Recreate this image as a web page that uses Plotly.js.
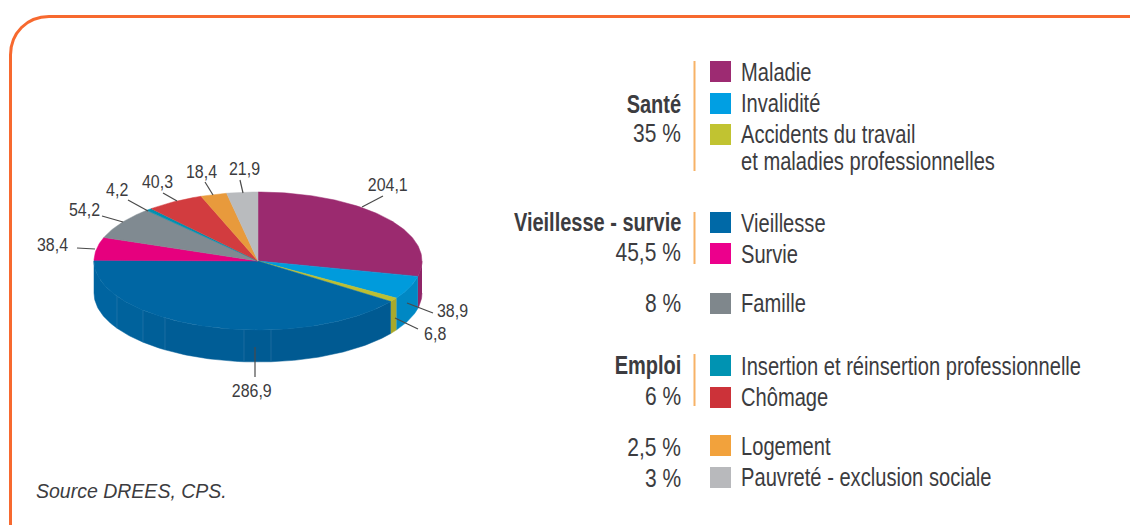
<!DOCTYPE html>
<html><head><meta charset="utf-8">
<script src="https://cdn.plot.ly/plotly-3.0.1.min.js"></script>
<style>html,body{margin:0;padding:0;background:#fff;overflow:hidden}#c{width:1130px;height:525px}</style>
</head><body><div id="c"></div>
<script>
// ---- data
var categories = ["Maladie","Invalidité","Accidents du travail et maladies professionnelles","Vieillesse","Survie","Famille","Insertion et réinsertion professionnelle","Chômage","Logement","Pauvreté - exclusion sociale"];
var values = [204.1,38.9,6.8,286.9,38.4,54.2,4.2,40.3,18.4,21.9];
var legendLines = [["Maladie"],["Invalidité"],["Accidents du travail","et maladies professionnelles"],["Vieillesse"],["Survie"],["Famille"],["Insertion et réinsertion professionnelle"],["Chômage"],["Logement"],["Pauvreté - exclusion sociale"]];
var groupLabels = ["Santé","35 %","Vieillesse - survie","45,5 %","8 %","Emploi","6 %","2,5 %","3 %"];
var boldGroups = ["Santé","Vieillesse - survie","Emploi"];
var sourceNote = "Source DREES, CPS.";

// ---- styles
var topColors  = ["#9b2a6f","#009bdc","#bcbf33","#0066a3","#e6007e","#808a91","#0090b0","#d23c3f","#e89a3c","#b9bbbe"];
var wallColors = ["#8f2568","#0088c4","#a8a92c","#005c95","#c8006e","#70787e","#007f9c","#b83236","#cc8633","#a3a5a8"];
var swatchColors = ["#9d2b72","#009fe3","#c1c331","#0069a7","#ec008c","#7f878c","#0093b2","#cc3239","#f2a23c","#b8b9bc"];
var textColor = "#3c3c40";
var legendFont = "'Liberation Sans',Arial,sans-serif";

// ---- layout geometry (pixels)
var cx = 258, cy = 261, rx = 164, ry = 69, depth = 32;
var swatchTops = [61,93,124,212,243,293,355,387,435,467];
var legendYs = [[72],[103],[134,161],[223],[254],[303],[366],[397],[446],[477]];
var groupYs = [104,133,222,252,303,365,396,447,478];
var brackets = [[61,171],[212,264],[354,406]];
var labelPos = [[388,184],[452,310],[435,333],[252,390],[52,244],[84,209],[117,189],[157,181],[201,171],[244,168]];
var leaders = [[[362,207],[383,196]],[[407,303],[433,313]],[[395,318],[418,329]],[[255,347],[255,377]],[[77,248],[95,249]],[[102,216],[123,222]],[[128,200],[148,211]],[[163,193],[177,201]],[[205,182],[213,195]],[[240,180],[243,193]]];
var seamXs = [117,143,165,244,271];

function px(a){return cx+rx*Math.sin(a*Math.PI/180);}
function py(a,d){return cy-ry*Math.cos(a*Math.PI/180)+(d||0);}
function arc(a,b,d){var xs=[],ys=[],n=Math.max(2,Math.ceil(Math.abs(b-a)));for(var i=0;i<=n;i++){var t=a+(b-a)*i/n;xs.push(px(t));ys.push(py(t,d));}return [xs,ys];}
function poly(xs,ys,color){return {type:"scatter",mode:"lines",x:xs,y:ys,fill:"toself",fillcolor:color,line:{width:0.5,color:color},hoverinfo:"skip",showlegend:false};}
function wall(a,b,color){var t=arc(a,b,0),u=arc(b,a,depth);return poly(t[0].concat(u[0]),t[1].concat(u[1]),color);}

var traces=[], total=values.reduce(function(s,v){return s+v;},0), start=0, spans=[];
values.forEach(function(v){var end=start+v/total*360;spans.push([start,end]);start=end;});

// walls: only the front half of the disc is visible
spans.forEach(function(s,i){
  var a=Math.max(s[0],90), b=Math.min(s[1],270);
  if(b<=a) return;
  if(categories[i]==="Vieillesse"){
    var cuts=seamXs.map(function(x){return 180+Math.asin((cx-x)/rx)*180/Math.PI;});
    cuts.sort(function(p,q){return p-q;});
    var edges=[a].concat(cuts,[b]);
    var shades=["#005a92","#005b93","#005d96","#005f98","#00629c","#0064a0"];
    for(var k=0;k<edges.length-1;k++) traces.push(wall(edges[k],edges[k+1],shades[k]));
    cuts.forEach(function(c){traces.push({type:"scatter",mode:"lines",x:[px(c),px(c)],y:[py(c),py(c,depth)],line:{width:1,color:"rgba(120,170,205,0.22)"},hoverinfo:"skip",showlegend:false});});
  } else traces.push(wall(a,b,wallColors[i]));
});
// top faces
spans.forEach(function(s,i){
  var t=arc(s[0],s[1],0);
  traces.push(poly([cx].concat(t[0],[cx]),[cy].concat(t[1],[cy]),topColors[i]));
});
// leader lines
leaders.forEach(function(l){
  traces.push({type:"scatter",mode:"lines",x:[l[0][0],l[1][0]],y:[l[0][1],l[1][1]],line:{width:1.2,color:"#4a4a4a"},hoverinfo:"skip",showlegend:false});
});
// swatches
categories.forEach(function(c,i){
  traces.push({type:"scatter",mode:"markers",x:[720.5],y:[swatchTops[i]+10.5],name:c,marker:{symbol:"square",size:21,color:swatchColors[i],line:{width:0}},hoverinfo:"name",showlegend:false});
});

var ann=[], squeeze=[];
function note(x,y,text,anchor,size,ratio,extra){
  var f={family:legendFont,size:size,color:textColor};
  if(extra) for(var k in extra) f[k]=extra[k];
  ann.push({x:x,y:y,xref:"x",yref:"y",text:text,showarrow:false,xanchor:anchor,yanchor:"middle",font:f});
  squeeze.push({ratio:ratio,dir:anchor==="left"?-1:(anchor==="right"?1:0)});
}
values.forEach(function(v,i){note(labelPos[i][0],labelPos[i][1],v.toFixed(1).replace(".",","),"center",19,0.84);});
legendLines.forEach(function(ls,i){ls.forEach(function(t,j){note(739,legendYs[i][j],t,"left",25,0.805);});});
groupLabels.forEach(function(t,i){
  var b=boldGroups.indexOf(t)>=0;
  note(683,groupYs[i],t,"right",25,b?0.8:0.84,b?{weight:700}:null);
});
note(34,491,sourceNote,"left",19.5,1,{style:"italic"});

var shapes=[{type:"path",xref:"x",yref:"y",path:"M 10.5 540 L 10.5 55 C 10.5 33 27 16.5 49 16.5 L 1145 16.5",line:{color:"#f7692f",width:3},fillcolor:"rgba(0,0,0,0)"}];
brackets.forEach(function(b){shapes.push({type:"line",xref:"x",yref:"y",x0:694.5,x1:694.5,y0:b[0],y1:b[1],line:{color:"#f7b267",width:2}});});

Plotly.newPlot("c",traces,{
  width:1130,height:525,margin:{l:0,r:0,t:0,b:0},
  paper_bgcolor:"#fff",plot_bgcolor:"#fff",showlegend:false,
  xaxis:{range:[0,1130],visible:false,fixedrange:true},
  yaxis:{range:[525,0],visible:false,fixedrange:true},
  shapes:shapes,annotations:ann
},{displayModeBar:false,staticPlot:true}).then(function(){
  // the original face is condensed: no condensed font is installed, so narrow the real text
  document.querySelectorAll("#c .annotation").forEach(function(g,i){
    var t=g.querySelector("text"), s=squeeze[i];
    if(!t||!s||s.ratio===1) return;
    var w=t.getComputedTextLength();
    var e=parseFloat(t.getAttribute("x")||0)+s.dir*w/2;
    t.setAttribute("transform","translate("+e+",0) scale("+s.ratio+",1) translate("+(-e)+",0)");
    var bg=g.querySelector("rect.bg");
    if(bg) bg.setAttribute("width",w*s.ratio);
  });
});
</script></body></html>
